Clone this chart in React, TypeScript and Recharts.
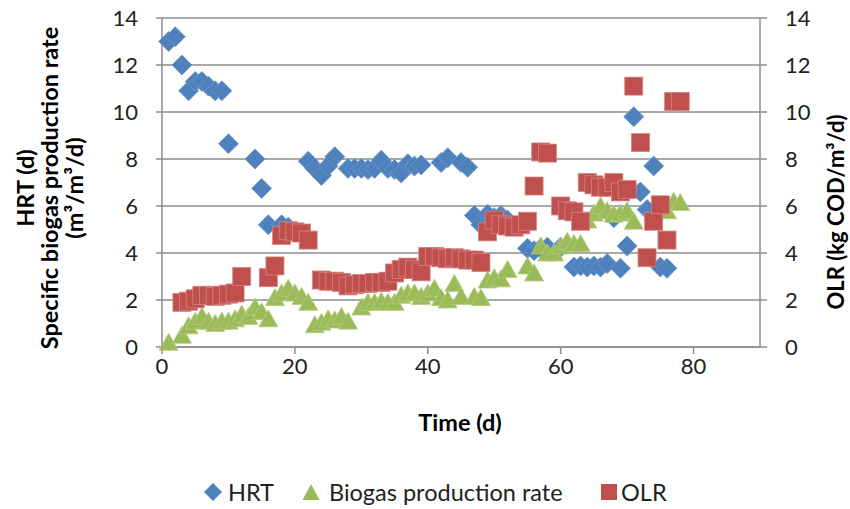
import { ScatterChart, Scatter, XAxis, YAxis, CartesianGrid, Label } from "recharts";

// HRT (d), left axis
const hrtDays = [1, 2, 3, 4, 5, 6, 7, 8, 9, 10, 14, 15, 16, 18, 19, 22, 23, 24, 25, 26, 28, 29, 30, 31, 32, 33, 34, 35, 36, 37, 38, 39, 42, 43, 45, 46, 47, 48, 49, 50, 51, 52, 55, 56, 57, 58, 60, 62, 63, 64, 65, 66, 67, 68, 69, 70, 71, 72, 73, 74, 75, 76];
const hrtValues = [13.0, 13.2, 12.0, 10.9, 11.3, 11.3, 11.1, 10.9, 10.9, 8.65, 8.0, 6.75, 5.2, 5.2, 5.1, 7.9, 7.6, 7.3, 7.7, 8.1, 7.6, 7.6, 7.6, 7.55, 7.6, 7.95, 7.6, 7.55, 7.4, 7.8, 7.7, 7.75, 7.85, 8.05, 7.85, 7.65, 5.6, 5.2, 5.65, 5.5, 5.6, 5.4, 4.2, 4.1, 4.2, 4.25, 4.25, 3.4, 3.45, 3.4, 3.45, 3.4, 3.55, 5.5, 3.35, 4.3, 9.8, 6.6, 5.85, 7.7, 3.4, 3.35];

// Specific biogas production rate (m3/m3/d), left axis
const biogasDays = [1, 3, 4, 5, 6, 7, 8, 9, 10, 11, 12, 13, 14, 15, 16, 17, 18, 19, 20, 21, 22, 23, 24, 25, 26, 27, 28, 30, 31, 32, 33, 34, 35, 36, 37, 38, 39, 40, 41, 42, 43, 44, 45, 47, 48, 49, 50, 51, 52, 55, 56, 57, 58, 59, 60, 61, 62, 63, 64, 65, 66, 67, 68, 69, 70, 71, 76, 77, 78];
const biogasValues = [0.2, 0.5, 0.9, 1.1, 1.3, 1.1, 1.0, 1.1, 1.1, 1.2, 1.4, 1.3, 1.7, 1.5, 1.2, 2.1, 2.3, 2.5, 2.3, 2.15, 1.9, 0.95, 1.05, 1.2, 1.15, 1.3, 1.1, 1.7, 1.9, 1.9, 1.95, 1.9, 1.9, 2.2, 2.3, 2.3, 2.15, 2.3, 2.5, 2.1, 2.0, 2.7, 2.15, 2.15, 2.1, 2.85, 2.95, 2.9, 3.3, 3.45, 3.15, 4.3, 4.0, 4.0, 4.3, 4.5, 4.4, 4.4, 5.4, 5.7, 6.0, 5.8, 5.65, 5.7, 5.8, 5.35, 5.8, 6.2, 6.15];

// OLR (kg COD/m3/d), right axis
const olrDays = [3, 4, 5, 6, 7, 8, 9, 10, 11, 12, 16, 17, 18, 19, 20, 21, 22, 24, 25, 26, 27, 28, 29, 30, 31, 32, 33, 34, 35, 36, 37, 38, 39, 40, 41, 42, 43, 44, 45, 46, 47, 48, 49, 50, 51, 52, 53, 54, 55, 56, 57, 58, 60, 61, 62, 63, 64, 65, 66, 67, 68, 69, 70, 71, 72, 73, 74, 75, 76, 77, 78];
const olrValues = [1.9, 1.95, 2.05, 2.2, 2.2, 2.15, 2.2, 2.25, 2.3, 3.0, 2.95, 3.45, 4.75, 4.95, 4.9, 4.85, 4.55, 2.85, 2.8, 2.8, 2.75, 2.6, 2.65, 2.7, 2.7, 2.75, 2.75, 2.8, 3.15, 3.3, 3.4, 3.3, 3.2, 3.85, 3.85, 3.8, 3.75, 3.8, 3.75, 3.7, 3.7, 3.6, 4.9, 5.4, 5.2, 5.15, 5.1, 5.2, 5.35, 6.85, 8.3, 8.25, 6.0, 5.8, 5.75, 5.35, 7.0, 6.9, 6.8, 6.8, 7.0, 6.6, 6.7, 11.1, 8.7, 3.8, 5.35, 6.05, 4.55, 10.45, 10.45];

const xTicks = [0, 20, 40, 60, 80];
const yTicks = [0, 2, 4, 6, 8, 10, 12, 14];

const FONT = "Lato, 'Open Sans', sans-serif";
const GRID = "#8c8c8c";
const BLUE = "#4F81BD";
const GREEN = "#9BBB59";
const RED = "#C0504D";

const zip = (days: number[], values: number[]) => days.map((d, i) => ({ day: d, value: values[i] }));

const hrtData = zip(hrtDays, hrtValues);
const biogasData = zip(biogasDays, biogasValues);
const olrData = zip(olrDays, olrValues);

const Diamond = ({ cx, cy }: any) => (
  <polygon points={`${cx},${cy - 10} ${cx + 10},${cy} ${cx},${cy + 10} ${cx - 10},${cy}`} fill={BLUE} stroke="#6d98cc" strokeWidth={0.8} />
);
const Triangle = ({ cx, cy }: any) => (
  <polygon points={`${cx},${cy - 9} ${cx + 9.5},${cy + 8} ${cx - 9.5},${cy + 8}`} fill={GREEN} stroke="#b2cc80" strokeWidth={0.8} />
);
const Square = ({ cx, cy }: any) => (
  <rect x={cx - 9} y={cy - 9} width={18} height={18} fill={RED} stroke="#d58482" strokeWidth={0.8} />
);

const tickStyle = { fill: "#222", fontSize: 22, fontFamily: FONT };
const titleStyle = { fill: "#000", fontSize: 23.5, fontWeight: 700, fontFamily: FONT } as const;

const LeftTitle = () => (
  <g>
    <text x={25} y={188} transform="rotate(-90 25 188)" textAnchor="middle" dominantBaseline="central" style={titleStyle}>HRT (d)</text>
    <text x={49} y={188} transform="rotate(-90 49 188)" textAnchor="middle" dominantBaseline="central" style={titleStyle}>Specific biogas production rate</text>
    <text x={74} y={188} transform="rotate(-90 74 188)" textAnchor="middle" dominantBaseline="central" style={titleStyle}>(m³/m³/d)</text>
  </g>
);

const RightTitle = () => (
  <text x={835} y={212} transform="rotate(-90 835 212)" textAnchor="middle" dominantBaseline="central" style={{ ...titleStyle, fontSize: 22 }}>OLR (kg COD/m³/d)</text>
);

const BottomTitle = () => (
  <text x={460} y={422} textAnchor="middle" dominantBaseline="central" style={titleStyle}>Time (d)</text>
);

const legendText = { position: "absolute", top: 479, fontFamily: FONT, fontSize: 23.5, color: "#222", lineHeight: "26px" } as const;

export default function App() {
  return (
    <div style={{ position: "absolute", left: 0, top: 0, width: 850, height: 509, background: "#fff" }}>
      <ScatterChart width={850} height={509} margin={{ top: 18, right: 30, bottom: 132, left: 102 }}>
        <CartesianGrid yAxisId="left" vertical={false} stroke={GRID} strokeWidth={1.5} />
        <XAxis
          type="number"
          dataKey="day"
          domain={[0, 90]}
          ticks={xTicks}
          height={30}
          tickSize={7}
          tickMargin={4}
          stroke={GRID}
          strokeWidth={1.5}
          tick={tickStyle}
        >
          <Label content={<BottomTitle />} />
        </XAxis>
        <YAxis
          yAxisId="left"
          type="number"
          dataKey="value"
          domain={[0, 14]}
          ticks={yTicks}
          width={60}
          tickSize={6}
          tickMargin={18}
          stroke={GRID}
          strokeWidth={1.5}
          tick={tickStyle}
        >
          <Label content={<LeftTitle />} />
        </YAxis>
        <YAxis
          yAxisId="right"
          orientation="right"
          type="number"
          dataKey="value"
          domain={[0, 14]}
          ticks={yTicks}
          width={60}
          tickSize={7}
          tickMargin={18}
          stroke={GRID}
          strokeWidth={1.5}
          tick={{ ...tickStyle, textAnchor: "start" }}
        >
          <Label content={<RightTitle />} />
        </YAxis>
        <Scatter name="HRT" yAxisId="left" data={hrtData} shape={<Diamond />} isAnimationActive={false} />
        <Scatter name="Biogas production rate" yAxisId="left" data={biogasData} shape={<Triangle />} isAnimationActive={false} />
        <Scatter name="OLR" yAxisId="right" data={olrData} shape={<Square />} isAnimationActive={false} />
      </ScatterChart>
      <svg style={{ position: "absolute", left: 0, top: 480 }} width={850} height={24}>
        <polygon points="213,3 222,12 213,21 204,12" fill={BLUE} />
        <polygon points="311,4 319.5,20 302.5,20" fill={GREEN} />
        <rect x={601} y={4} width={16} height={16} fill={RED} />
      </svg>
      <span style={{ ...legendText, left: 228 }}>HRT</span>
      <span style={{ ...legendText, left: 329 }}>Biogas production rate</span>
      <span style={{ ...legendText, left: 621 }}>OLR</span>
    </div>
  );
}
